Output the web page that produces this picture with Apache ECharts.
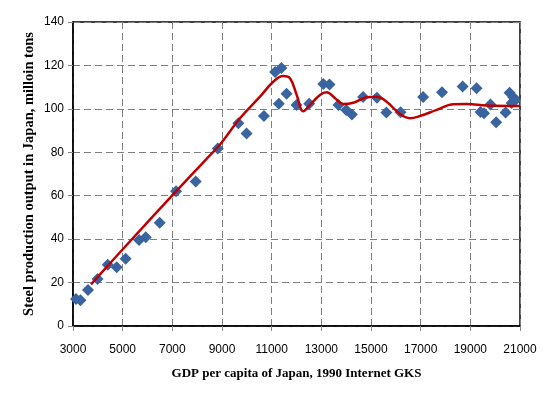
<!DOCTYPE html>
<html>
<head>
<meta charset="utf-8">
<script src="https://cdn.jsdelivr.net/npm/echarts@6/dist/echarts.min.js"></script>
<style>html,body{margin:0;padding:0;background:#fff}#c{width:550px;height:394px}</style>
</head>
<body>
<div id="c"></div>
<script>
// GDP per capita (x) and steel output (y)
var gdpX = [3121,3300,3604,3990,4400,4760,5120,5660,5930,6490,7150,7940,8830,9660,9990,10690,11140,11390,11290,11600,12000,12510,13080,13330,13690,14000,14230,14680,15240,15620,16190,17100,17860,18690,19250,19410,19550,19810,20040,20420,20580,20730,20800,20660];
var steelY = [12.4,11.9,16.6,21.6,28.2,27.1,31.0,39.6,40.9,47.5,62.0,66.6,81.8,93.4,88.6,96.7,117.0,118.8,102.3,106.9,101.8,102.3,111.5,111.2,101.8,99.5,97.4,105.5,105.1,98.3,98.4,105.5,107.6,110.3,109.5,98.5,98.0,102.0,93.8,98.3,107.4,105.4,103.9,102.7];
// Smoothed trend curve
var trendX = [3725,5160,7110,8380,8920,9725,10530,11066,11468,11738,12008,12274,12544,12946,13216,13550,13885,14287,14827,15229,15632,16168,16570,16973,17646,18314,18854,19659,21000];
var trendY = [19.2,37.3,61.5,77.0,83.6,95.7,105.6,112.5,115.1,114.1,106.4,98.9,101.8,106.4,107.6,104.9,102.2,102.8,105.3,105.6,103.3,97.6,95.7,96.7,99.5,102.1,102.2,101.5,101.3];
var xTicks = [3000,5000,7000,9000,11000,13000,15000,17000,19000,21000];
var yTicks = [0,20,40,60,80,100,120,140];

var scatterData = gdpX.map(function(x,i){return [x, steelY[i]];});
var trendData = trendX.map(function(x,i){return [x, trendY[i]];});

var chart = echarts.init(document.getElementById('c'), null, {renderer:'canvas'});
chart.setOption({
  animation:false,
  backgroundColor:'#fff',
  grid:{left:73,right:30,top:22,bottom:68,show:true,borderColor:'#000',borderWidth:1.5,backgroundColor:'transparent'},
  xAxis:{
    type:'value',min:xTicks[0],max:xTicks[xTicks.length-1],interval:2000,
    name:'GDP per capita of Japan, 1990 Internet GKS',nameLocation:'middle',nameGap:41,nameMoveOverlap:false,
    nameTextStyle:{fontFamily:'Liberation Serif',fontWeight:'bold',fontSize:13,color:'#000'},
    axisLine:{show:true,lineStyle:{color:'#000',width:1.5}},
    axisTick:{show:true,length:5,lineStyle:{color:'#888'}},
    axisLabel:{fontFamily:'Liberation Sans',fontSize:12,color:'#000',margin:18,formatter:function(v){return String(v);}},
    splitLine:{show:true,lineStyle:{color:'#7f7f7f',type:[7,4],width:1}}
  },
  yAxis:{
    type:'value',min:yTicks[0],max:yTicks[yTicks.length-1],interval:20,
    name:'Steel production output in Japan, milloin tons',nameLocation:'middle',nameGap:36,nameMoveOverlap:false,
    nameTextStyle:{fontFamily:'Liberation Serif',fontWeight:'bold',fontSize:14.5,color:'#000'},
    axisLine:{show:true,lineStyle:{color:'#000',width:1.5}},
    axisTick:{show:true,length:5,lineStyle:{color:'#888'}},
    axisLabel:{fontFamily:'Liberation Sans',fontSize:12,color:'#000',margin:9,formatter:function(v){return String(v);}},
    splitLine:{show:true,lineStyle:{color:'#7f7f7f',type:[7,4],width:1}}
  },
  series:[
    {type:'scatter',data:scatterData,symbol:'diamond',symbolSize:[12,12],
     itemStyle:{color:'#3a64a0',opacity:1},z:2},
    {type:'line',data:trendData,smooth:0.4,showSymbol:false,symbol:'none',
     lineStyle:{color:'#c00000',width:2.5},z:3}
  ]
});
</script>
</body>
</html>
